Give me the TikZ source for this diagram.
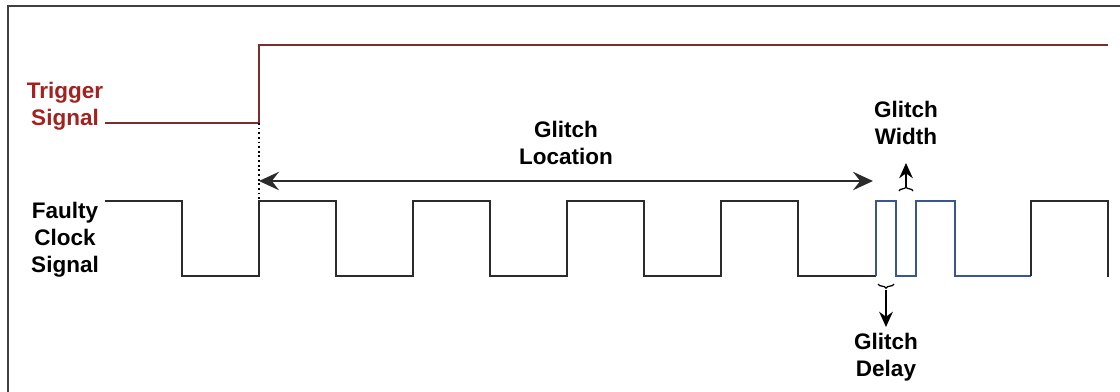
\documentclass[tikz,border=0pt]{standalone}
\usepackage{fontspec}
\setmainfont{Liberation Sans}
\usepackage{tikz}
\usetikzlibrary{positioning,arrows.meta,decorations.pathreplacing}

\definecolor{trigred}{HTML}{A3211F}
\definecolor{trigline}{HTML}{7E2D2D}
\definecolor{glitchblue}{HTML}{3A558F}
\definecolor{wavegray}{HTML}{2B2B2B}

\begin{document}
\begin{tikzpicture}[
  x=0.025cm, y=-0.025cm,
  lbl/.style={font=\fontsize{16}{19.2}\selectfont\bfseries, align=center},
  wave/.style={line width=1.5pt, draw=wavegray, line join=miter},
  arr/.style={{Stealth[length=0.5cm,width=0.46cm,inset=0.18cm]}-{Stealth[length=0.5cm,width=0.46cm,inset=0.18cm]}, line width=1.5pt, draw=wavegray},
  small arr/.style={-{Stealth[length=0.38cm,width=0.34cm]}, line width=1.3pt},
  brc/.style={decorate, decoration={brace, amplitude=3pt}, line width=0.9pt}
]
\useasboundingbox (0,0) rectangle (1120,391);
% outer frame (runs off the right and bottom edges)
\draw[line width=2pt, draw=black!75] (8,6) rectangle (1130,400);

% labels
\node[lbl, text=trigred] (trigger) at (65,106) {Trigger\\Signal};
\node[lbl] (clock) at (65,240) {Faulty\\Clock\\Signal};
\node[lbl] (loc) at (566,143) {Glitch\\Location};
\node[lbl] (width) at (906,123) {Glitch\\Width};
\node[lbl] (delay) at (886,357) {Glitch\\Delay};

% trigger signal
\coordinate (trig) at (259,123);
\draw[line width=1.5pt, draw=trigline] (105,123) -- (trig) -- (259,45) -- (1108,45);

% faulty clock
\coordinate (rise) at (259,201);
\coordinate (gstart) at (876,276);
\coordinate (gend) at (1031,276);
\draw[wave] (105,201) foreach \x in {182,336,490,644} { -| (\x,276) -| (\x+77,201) }
  -| (798,276) -- (gstart);
\draw[wave, draw=glitchblue] (gstart) -- (876,201) -- (896,201) -- (896,276) -- (916,276)
  -- (916,201) -- (955,201) -- (955,276) -- (gend);
\draw[wave] (gend) -- (1031,201) -- (1108,201) -- (1108,277);

% trigger edge marker
\draw[dotted, line width=1.3pt] (trig) -- (rise);

% glitch location
\coordinate (locL) at (259,181);
\coordinate (locR) at (873,181);
\draw[arr] (locL) -- (locR);

% glitch width
\draw[brc] (899,191) -- (913,191);
\coordinate (wtip) at (906,163);
\draw[small arr] (906,187) -- (wtip);

% glitch delay
\draw[brc] (894,284) -- (878,284);
\coordinate (dtip) at (886,327);
\draw[small arr] (886,290) -- (dtip);
\end{tikzpicture}
\end{document}
